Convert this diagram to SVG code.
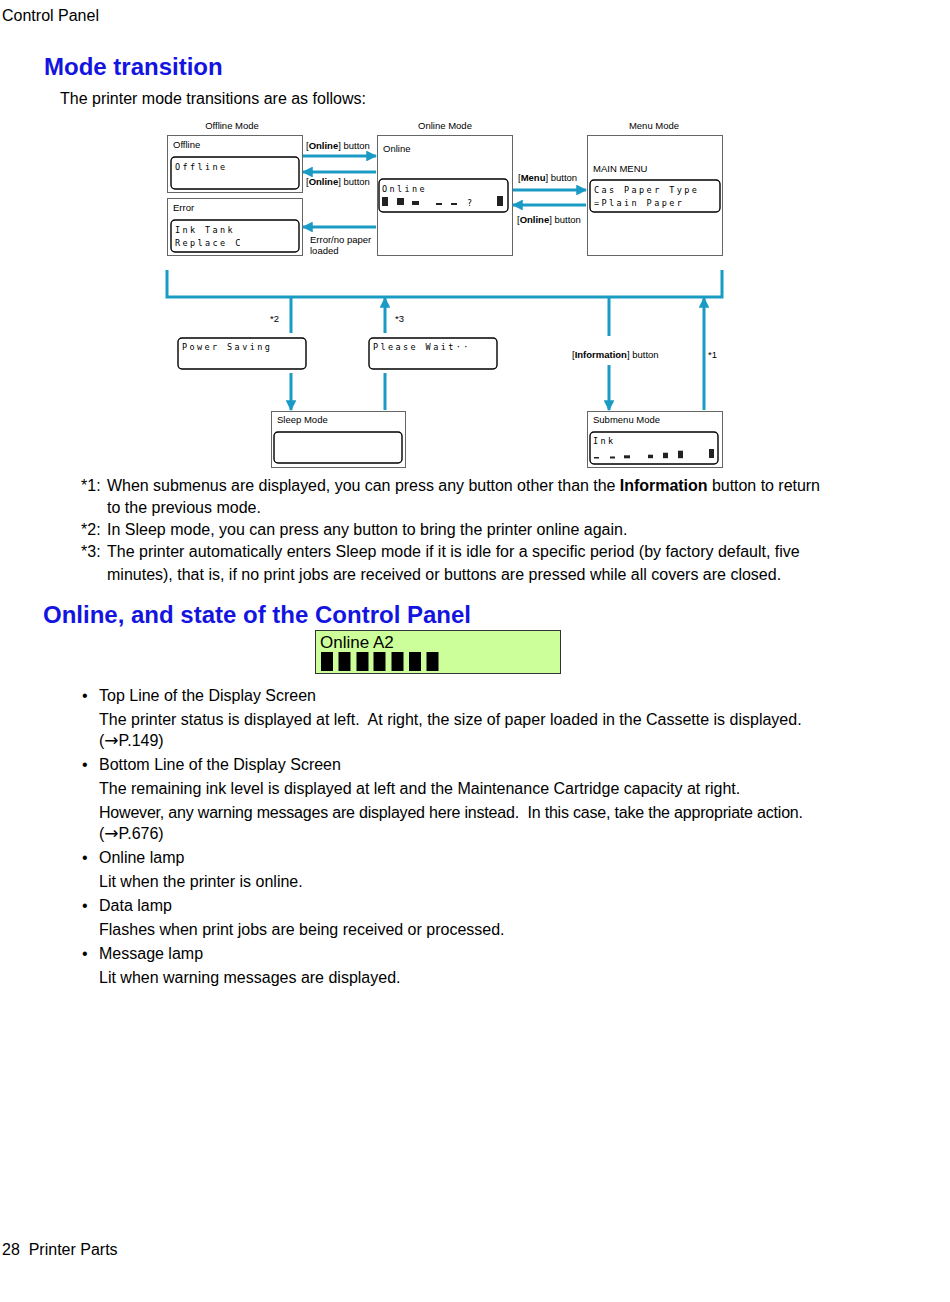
<svg xmlns="http://www.w3.org/2000/svg" width="950" height="1302" viewBox="0 0 950 1302" xml:space="preserve">
<defs>
<style>
text{white-space:pre}
.t{font-family:"Liberation Sans",Arial,sans-serif;font-size:16px;fill:#000}
.h{font-family:"Liberation Sans",Arial,sans-serif;font-size:24px;font-weight:bold;fill:#1414e0}
.s{font-family:"Liberation Sans",Arial,sans-serif;font-size:9.5px;fill:#000}
.lcd{font-family:"DejaVu Sans Mono",monospace;font-size:8.5px;letter-spacing:2.4px;fill:#000}
.box{fill:#fff;stroke:#666;stroke-width:1}
.in{fill:#fff;stroke:#000;stroke-width:1.4}
.c{stroke:#1a9bc5;stroke-width:3;fill:none}
.bar{fill:#222}
.ar{font-family:"DejaVu Sans",sans-serif;font-size:17px}
</style>
<marker id="ah" viewBox="0 0 10 10" refX="9" refY="5" markerWidth="3.6" markerHeight="3.6" orient="auto" markerUnits="strokeWidth">
<path d="M0,0 L10,5 L0,10 Z" fill="#1a9bc5"/>
</marker>
</defs>
<rect width="950" height="1302" fill="#fff"/>
<text class="t" x="2" y="21">Control Panel</text>
<text class="h" x="44" y="75">Mode transition</text>
<text class="t" x="60" y="104">The printer mode transitions are as follows:</text>
<text class="s" x="232" y="129" text-anchor="middle">Offline Mode</text>
<text class="s" x="445" y="129" text-anchor="middle">Online Mode</text>
<text class="s" x="654" y="129" text-anchor="middle">Menu Mode</text>
<g id="offline">
<rect class="box" x="167.5" y="135.5" width="135" height="57"/>
<text class="s" x="173" y="148">Offline</text>
<rect class="in" x="171" y="157" width="128" height="32" rx="4"/>
<text class="lcd" x="175" y="170">Offline</text>
</g>
<g id="error">
<rect class="box" x="167.5" y="198.5" width="135" height="57"/>
<text class="s" x="173" y="211">Error</text>
<rect class="in" x="171" y="220" width="128" height="32" rx="4"/>
<text class="lcd" x="175" y="233">Ink Tank</text>
<text class="lcd" x="175" y="246">Replace C</text>
</g>
<g id="online">
<rect class="box" x="377.5" y="135.5" width="135" height="120"/>
<text class="s" x="383" y="152">Online</text>
<rect class="in" x="379" y="179" width="129" height="33" rx="4"/>
<text class="lcd" x="382" y="192">Online</text>
<rect class="bar" x="382" y="197" width="6" height="9"/>
<rect class="bar" x="397" y="198" width="7" height="7"/>
<rect class="bar" x="412" y="201" width="7" height="4"/>
<rect class="bar" x="436" y="203" width="6" height="2"/>
<rect class="bar" x="451" y="203" width="6" height="2"/>
<text class="lcd" x="467" y="206">?</text>
<rect class="bar" x="497" y="196" width="6" height="10"/>
</g>
<g id="menu">
<rect class="box" x="587.5" y="135.5" width="135" height="120"/>
<text class="s" x="593" y="172">MAIN MENU</text>
<rect class="in" x="590" y="180" width="130" height="32" rx="4"/>
<text class="lcd" x="594" y="193">Cas Paper Type</text>
<text class="lcd" x="594" y="206">=Plain Paper</text>
</g>
<g id="powersaving">
<rect class="in" x="178" y="338" width="128" height="31" rx="4"/>
<text class="lcd" x="182" y="350">Power Saving</text>
</g>
<g id="pleasewait">
<rect class="in" x="369" y="338" width="128" height="31" rx="4"/>
<text class="lcd" x="373" y="350">Please Wait··</text>
</g>
<g id="sleep">
<rect class="box" x="271.5" y="411.5" width="134" height="56"/>
<text class="s" x="277" y="423">Sleep Mode</text>
<rect class="in" x="274" y="432" width="128" height="31" rx="4"/>
</g>
<g id="submenu">
<rect class="box" x="587.5" y="411.5" width="135" height="56"/>
<text class="s" x="593" y="423">Submenu Mode</text>
<rect class="in" x="590" y="432" width="128" height="32" rx="4"/>
<text class="lcd" x="593" y="444">Ink</text>
<rect class="bar" x="594" y="457" width="5" height="1.5"/>
<rect class="bar" x="610" y="456.5" width="5" height="2"/>
<rect class="bar" x="624" y="455.3" width="6" height="3"/>
<rect class="bar" x="648" y="454.7" width="5" height="3.5"/>
<rect class="bar" x="663" y="452.7" width="5" height="5.5"/>
<rect class="bar" x="678" y="450.7" width="5" height="7.5"/>
<rect class="bar" x="709" y="449" width="5" height="9"/>
</g>
<g id="connectors">
<line class="c" x1="303" y1="156" x2="376" y2="156" marker-end="url(#ah)"/>
<line class="c" x1="376" y1="172" x2="303" y2="172" marker-end="url(#ah)"/>
<line class="c" x1="376" y1="227" x2="303" y2="227" marker-end="url(#ah)"/>
<line class="c" x1="513" y1="190" x2="586" y2="190" marker-end="url(#ah)"/>
<line class="c" x1="586" y1="205" x2="513" y2="205" marker-end="url(#ah)"/>
<polyline class="c" points="167,270 167,297 722,297 722,270"/>
<line class="c" x1="291" y1="297" x2="291" y2="333"/>
<line class="c" x1="291" y1="373" x2="291" y2="410" marker-end="url(#ah)"/>
<line class="c" x1="385" y1="410" x2="385" y2="373"/>
<line class="c" x1="385" y1="333" x2="385" y2="298" marker-end="url(#ah)"/>
<line class="c" x1="609" y1="297" x2="609" y2="336"/>
<line class="c" x1="609" y1="365" x2="609" y2="410" marker-end="url(#ah)"/>
<line class="c" x1="704" y1="410" x2="704" y2="298" marker-end="url(#ah)"/>
<text class="s" x="306" y="149">[<tspan font-weight="bold">Online</tspan>] button</text>
<text class="s" x="306" y="185">[<tspan font-weight="bold">Online</tspan>] button</text>
<text class="s" x="310" y="243">Error/no paper</text>
<text class="s" x="310" y="254">loaded</text>
<text class="s" x="518" y="181">[<tspan font-weight="bold">Menu</tspan>] button</text>
<text class="s" x="517" y="223">[<tspan font-weight="bold">Online</tspan>] button</text>
<text class="s" x="270" y="322" font-size="8">*2</text>
<text class="s" x="395" y="322" font-size="8">*3</text>
<text class="s" x="572" y="358">[<tspan font-weight="bold">Information</tspan>] button</text>
<text class="s" x="708" y="358" font-size="8">*1</text>
</g>
<text class="t" x="81" y="491">*1:</text>
<text class="t" x="107" y="491" textLength="713" lengthAdjust="spacing">When submenus are displayed, you can press any button other than the <tspan font-weight="bold">Information</tspan> button to return</text>
<text class="t" x="107" y="513">to the previous mode.</text>
<text class="t" x="81" y="535">*2:</text>
<text class="t" x="107" y="535">In Sleep mode, you can press any button to bring the printer online again.</text>
<text class="t" x="81" y="557">*3:</text>
<text class="t" x="107" y="557">The printer automatically enters Sleep mode if it is idle for a specific period (by factory default, five</text>
<text class="t" x="107" y="580">minutes), that is, if no print jobs are received or buttons are pressed while all covers are closed.</text>
<text class="h" x="43" y="623">Online, and state of the Control Panel</text>
<g id="lcd-panel">
<rect x="315.5" y="630.5" width="245" height="43" fill="#ccff99" stroke="#333" stroke-width="1"/>
<text x="320" y="648" font-family="'Liberation Sans',Arial,sans-serif" font-size="17" fill="#000">Online A2</text>
<rect x="321" y="652" width="12" height="19"/>
<rect x="338.5" y="652" width="12" height="19"/>
<rect x="356.5" y="652" width="12" height="19"/>
<rect x="373.5" y="652" width="12" height="19"/>
<rect x="391.5" y="652" width="12" height="19"/>
<rect x="409" y="652" width="12" height="19"/>
<rect x="426.5" y="652" width="12" height="19"/>
</g>
<text class="t" x="82" y="701">•</text>
<text class="t" x="99" y="701">Top Line of the Display Screen</text>
<text class="t" x="99" y="725">The printer status is displayed at left.  At right, the size of paper loaded in the Cassette is displayed.</text>
<text class="t" x="99" y="746">(<tspan class="ar">→</tspan>P.149)</text>
<text class="t" x="82" y="770">•</text>
<text class="t" x="99" y="770">Bottom Line of the Display Screen</text>
<text class="t" x="99" y="794">The remaining ink level is displayed at left and the Maintenance Cartridge capacity at right.</text>
<text class="t" x="99" y="818" textLength="704" lengthAdjust="spacing">However, any warning messages are displayed here instead.  In this case, take the appropriate action.</text>
<text class="t" x="99" y="839">(<tspan class="ar">→</tspan>P.676)</text>
<text class="t" x="82" y="863">•</text>
<text class="t" x="99" y="863">Online lamp</text>
<text class="t" x="99" y="887">Lit when the printer is online.</text>
<text class="t" x="82" y="911">•</text>
<text class="t" x="99" y="911">Data lamp</text>
<text class="t" x="99" y="935">Flashes when print jobs are being received or processed.</text>
<text class="t" x="82" y="959">•</text>
<text class="t" x="99" y="959">Message lamp</text>
<text class="t" x="99" y="983">Lit when warning messages are displayed.</text>
<text class="t" x="2" y="1255">28  Printer Parts</text>
</svg>
